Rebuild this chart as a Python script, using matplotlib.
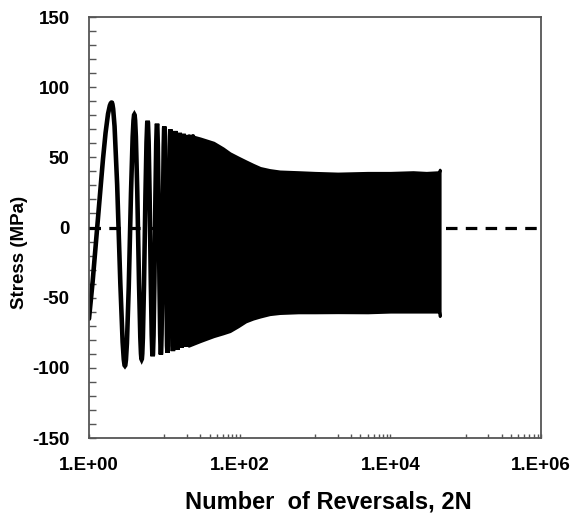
import matplotlib
matplotlib.use("Agg")
import matplotlib.pyplot as plt
from matplotlib.path import Path
from matplotlib.patches import PathPatch
from matplotlib.ticker import FixedLocator, NullFormatter

plt.rcParams["font.family"] = ["Liberation Sans", "DejaVu Sans"]
plt.rcParams["font.weight"] = "bold"
plt.rcParams["axes.unicode_minus"] = False

# ---- resolved early reversals: peak/valley stress at each reversal ----
early_rev = [1, 2, 3, 4, 5, 6, 7, 8, 9, 10, 11, 12, 13, 14, 15, 16,
             17, 18, 19, 20, 21, 22, 23, 24]
early_stress = [-65, 89, -98.5, 80.5, -94, 76, -91.7, 74, -90.5, 72,
                -89.3, 70, -88.1, 68.8, -87, 67.5, -85.8, 66.8, -85,
                66, -84.5, 65.5, -84, 65]

# ---- stress envelope for the dense part of the test ----
env_rev = [21, 30, 45, 60, 74, 95, 120, 150, 187, 250, 340, 600, 1000,
           2000, 5000, 10000, 20000, 30000, 44500, 45200]
env_max = [65.8, 63.5, 60.5, 56.5, 53, 50, 47.3, 44.8, 42.5, 41, 40,
           39.5, 39, 38.5, 39, 39, 39.5, 39, 39.5, 41.3]
env_min = [-84.3, -81, -77.5, -75.5, -73.9, -70.5, -67, -65, -63.5,
           -61.8, -61, -60.5, -60.5, -60.4, -60.5, -60, -60, -60, -60,
           -63.2]

xticks = [1, 1e2, 1e4, 1e6]
xtick_labels = ["1.E+00", "1.E+02", "1.E+04", "1.E+06"]
yticks = [-150, -100, -50, 0, 50, 100, 150]

fig = plt.figure(figsize=(5.79, 5.17), dpi=100)
ax = fig.add_axes([0.1537, 0.1528, 0.7807, 0.8143])
ax.set_xscale("log")
ax.set_xlim(1, 1e6)
ax.set_ylim(-150, 150)

# zero line
ax.axhline(0, color="black", lw=2.3, dashes=(3.6, 2.6), zorder=3)

# early cycles as smooth half-waves between reversal points
verts = [(early_rev[0], early_stress[0])]
codes = [Path.MOVETO]
for i in range(1, len(early_rev)):
    x0, y0 = early_rev[i - 1], early_stress[i - 1]
    x1, y1 = early_rev[i], early_stress[i]
    h = 0.36 * (x1 - x0)
    if i == 1:
        c1 = (x0 + h, y0 + 0.45 * (y1 - y0))
    else:
        c1 = (x0 + h, y0)
    verts += [c1, (x1 - h, y1), (x1, y1)]
    codes += [Path.CURVE4] * 3
ax.add_patch(PathPatch(Path(verts, codes), fill=False, lw=3.3,
                       edgecolor="black", capstyle="round", zorder=2))

# dense cycles show as a solid band
ax.fill_between(env_rev, env_min, env_max, facecolor="black",
                edgecolor="black", lw=2.0, zorder=2)

ax.set_xticks(xticks)
ax.set_xticklabels(xtick_labels)
minor = [k * 10 ** d for d in (1, 3, 5) for k in range(1, 10)]
ax.xaxis.set_minor_locator(FixedLocator(minor))
ax.xaxis.set_minor_formatter(NullFormatter())
ax.set_yticks(yticks)
ax.yaxis.set_minor_locator(FixedLocator(range(-150, 151, 10)))

ax.tick_params(axis="both", which="both", direction="in", color="#555555",
               width=1.0, labelsize=13.5, pad=14)
ax.tick_params(axis="x", which="both", length=3)
ax.tick_params(axis="y", which="both", length=5)

for sp in ax.spines.values():
    sp.set_color("#555555")
    sp.set_linewidth(1.3)

ax.set_xlabel("Number  of Reversals, 2N", fontsize=17, fontweight="bold")
ax.set_ylabel("Stress (MPa)", fontsize=13.5, fontweight="bold")
ax.xaxis.set_label_coords(0.53, -0.125)
ax.yaxis.set_label_coords(-0.134, 0.44)

fig.savefig("out.png", dpi=100)
